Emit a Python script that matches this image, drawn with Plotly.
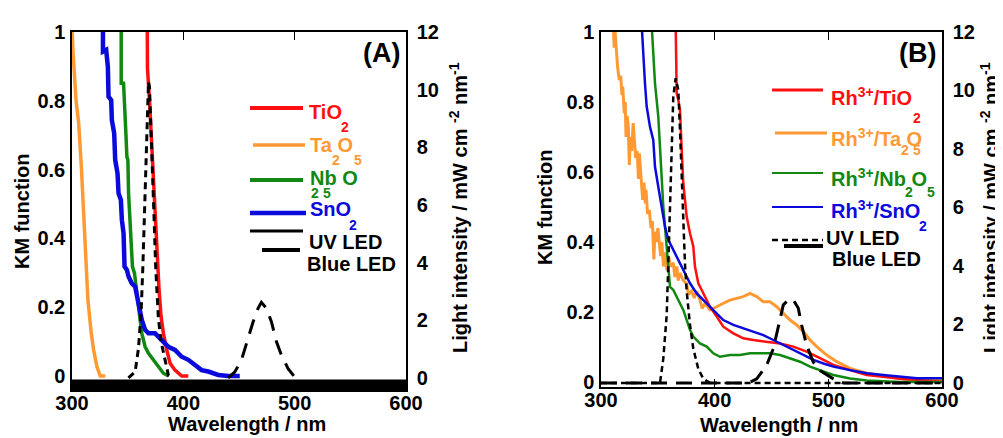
import plotly.graph_objects as go

# ---------------- Panel A data (wavelength nm, KM function / light intensity) -------------
a_ta_x = [300.0, 300.9, 303.6, 306.0, 308.4, 309.9, 311.3, 312.8, 314.3, 317.3, 319.4, 322.4, 325.4, 330.0]
a_ta_y = [1.02, 0.943, 0.802, 0.735, 0.608, 0.512, 0.415, 0.318, 0.221, 0.124, 0.076, 0.027, 0.0, 0.0]

a_sn_x = [327.8, 327.8, 330.7, 332.2, 332.8, 335.2, 335.8, 337.9, 338.8, 340.9, 341.8, 343.9, 344.8, 346.3,
          347.2, 349.3, 350.8, 353.7, 356.7, 358.2, 359.7, 361.2, 362.7, 365.7, 368.7, 374.6, 380.6, 386.6,
          392.5, 398.5, 404.5, 410.4, 416.4, 422.4, 431.4, 440.3, 450.7]
a_sn_y = [1.02, 0.943, 0.948, 0.899, 0.812, 0.802, 0.744, 0.705, 0.628, 0.589, 0.531, 0.512, 0.453, 0.415,
          0.318, 0.308, 0.289, 0.269, 0.260, 0.231, 0.221, 0.182, 0.163, 0.134, 0.124, 0.124, 0.105, 0.085,
          0.076, 0.056, 0.047, 0.032, 0.017, 0.013, 0.003, 0.0, 0.0]

a_nb_x = [344.2, 344.2, 346.3, 347.2, 348.4, 349.3, 350.2, 350.8, 353.1, 354.3, 356.1, 358.2, 359.7, 361.2,
          362.7, 365.7, 368.7, 373.2, 377.7, 382.1, 386.6]
a_nb_y = [1.02, 0.851, 0.851, 0.802, 0.705, 0.637, 0.628, 0.531, 0.415, 0.318, 0.299, 0.250, 0.202, 0.163,
          0.124, 0.085, 0.066, 0.047, 0.027, 0.008, 0.0]

a_ti_x = [367.6, 367.8, 369.6, 371.1, 372.3, 373.7, 375.2, 377.0, 378.2, 380.0, 382.1, 385.1, 388.1, 392.5,
          398.5, 404.5]
a_ti_y = [1.02, 0.894, 0.802, 0.705, 0.608, 0.512, 0.415, 0.318, 0.250, 0.172, 0.124, 0.076, 0.037, 0.017,
          0.0, 0.0]

a_uv_x = [350.7, 356.7, 359.7, 362.1, 363.6, 365.1, 366.3, 367.2, 368.7, 369.6, 370.7, 372.3, 373.7, 375.2,
          377.6, 380.0, 383.6, 386.6, 389.6]
a_uv_y = [0.0, 0.21, 1.02, 2.30, 3.81, 5.56, 7.30, 8.70, 10.27, 10.09, 9.04, 7.30, 5.56, 3.81,
          2.07, 1.26, 0.56, 0.09, 0.0]

a_bl_x = [440.3, 446.3, 452.2, 458.2, 462.7, 467.2, 470.1, 474.6, 479.1, 483.6, 488.1, 494.1, 500.0, 503.0]
a_bl_y = [0.0, 0.21, 0.62, 1.37, 1.95, 2.42, 2.62, 2.42, 1.95, 1.26, 0.79, 0.32, 0.03, 0.0]

# ---------------- Panel B data -------------
b_ti_x = [365.7, 366.6, 368.0, 369.5, 371.0, 372.4, 373.9, 375.4, 378.3, 381.2, 382.7, 385.6, 388.6, 391.5,
          395.9, 401.8, 407.6, 416.4, 425.2, 434.0, 445.7, 457.5, 469.2, 480.9, 492.7, 504.4, 519.1, 533.8,
          548.4, 563.1, 577.8, 600.0]
b_ti_y = [1.02, 0.825, 0.806, 0.777, 0.663, 0.568, 0.520, 0.472, 0.425, 0.387, 0.329, 0.282, 0.263, 0.244,
          0.215, 0.187, 0.158, 0.139, 0.125, 0.120, 0.115, 0.110, 0.101, 0.087, 0.068, 0.049, 0.034, 0.020,
          0.015, 0.009, 0.006, 0.001]

b_ta_x = [310.8, 311.6, 312.4, 313.2, 314.6, 316.1, 317.3, 318.5, 319.1, 320.5, 321.3, 322.0, 323.0, 324.0,
          324.9, 325.8, 327.0, 328.3, 329.3, 330.5, 331.8, 333.0, 333.7, 335.2, 336.7, 337.8, 339.0, 339.6,
          341.0, 342.5, 344.0, 345.2, 346.5, 347.5, 349.0, 350.0, 351.3, 352.5, 353.5, 355.0, 356.5, 358.0,
          359.5, 361.0, 363.6, 365.0, 366.6, 368.0, 369.5, 372.4, 375.4, 377.0, 379.8, 382.0, 384.2, 387.1,
          389.0, 391.5, 395.9, 398.0, 401.8, 407.6, 413.5, 419.4, 425.2, 431.1, 437.0, 442.8, 448.7, 454.6,
          460.4, 466.3, 472.2, 478.0, 483.9, 489.8, 498.6, 507.4, 519.1, 533.8, 548.4, 563.1, 577.8, 600.0]
b_ta_y = [1.02, 0.955, 1.0, 0.958, 0.90, 0.863, 0.875, 0.82, 0.844, 0.768, 0.80, 0.70, 0.76, 0.73,
          0.62, 0.70, 0.66, 0.74, 0.68, 0.64, 0.66, 0.58, 0.653, 0.568, 0.52, 0.57, 0.51, 0.549,
          0.48, 0.491, 0.44, 0.46, 0.35, 0.43, 0.40, 0.44, 0.387, 0.36, 0.40, 0.33, 0.37, 0.32,
          0.36, 0.33, 0.34, 0.30, 0.33, 0.29, 0.311, 0.29, 0.28, 0.25, 0.26, 0.24, 0.26, 0.234,
          0.21, 0.225, 0.206, 0.21, 0.215, 0.225, 0.234, 0.239, 0.244, 0.253, 0.244, 0.229, 0.229, 0.215,
          0.196, 0.177, 0.163, 0.144, 0.120, 0.101, 0.077, 0.058, 0.039, 0.025, 0.017, 0.010, 0.006, 0.006]

b_nb_x = [344.6, 346.0, 347.5, 350.4, 351.9, 353.4, 354.8, 356.3, 357.8, 359.2, 360.7, 363.6, 366.6, 369.5,
          372.4, 375.4, 378.3, 381.2, 387.1, 393.0, 398.8, 404.7, 413.5, 422.3, 431.1, 439.9, 448.7, 457.5,
          466.3, 475.1, 483.9, 492.7, 504.4, 519.1, 533.8, 563.1, 600.0]
b_nb_y = [1.02, 0.929, 0.853, 0.758, 0.663, 0.568, 0.501, 0.444, 0.377, 0.329, 0.272, 0.263, 0.244, 0.225,
          0.206, 0.177, 0.149, 0.130, 0.110, 0.101, 0.082, 0.072, 0.077, 0.077, 0.082, 0.082, 0.082, 0.077,
          0.068, 0.058, 0.044, 0.034, 0.020, 0.010, 0.004, 0.0, 0.0]

b_sn_x = [335.8, 337.2, 338.7, 340.2, 343.1, 346.0, 347.5, 350.4, 353.4, 356.3, 359.2, 362.2, 365.1, 369.5,
          373.9, 378.3, 384.2, 390.0, 395.9, 401.8, 407.6, 416.4, 425.2, 434.0, 442.8, 451.6, 460.4, 469.2,
          478.0, 486.9, 495.7, 504.4, 519.1, 533.8, 548.4, 563.1, 577.8, 600.0]
b_sn_y = [1.02, 0.929, 0.853, 0.787, 0.729, 0.691, 0.615, 0.558, 0.501, 0.444, 0.406, 0.387, 0.368, 0.339,
          0.311, 0.282, 0.253, 0.234, 0.215, 0.196, 0.177, 0.163, 0.153, 0.144, 0.134, 0.120, 0.106, 0.091,
          0.077, 0.063, 0.053, 0.044, 0.034, 0.025, 0.020, 0.015, 0.011, 0.011]

b_uv_x = [300.0, 351.9, 354.8, 357.8, 359.2, 360.7, 362.2, 363.6, 365.7, 368.0, 369.5, 371.0, 372.4, 373.9,
          375.4, 378.3, 381.2, 385.6, 390.0, 395.9, 600.0]
b_uv_y = [0.0, 0.0, 0.83, 2.32, 4.05, 6.34, 8.07, 9.79, 10.42, 10.02, 8.64, 6.92, 5.20, 4.05,
          3.13, 1.98, 1.17, 0.48, 0.14, 0.0, 0.0]

b_bl_x = [300.0, 430.0, 437.0, 445.7, 451.6, 456.0, 460.4, 464.8, 469.2, 473.6, 476.5, 480.9, 486.8, 492.7,
          504.4, 513.2, 600.0]
b_bl_y = [0.0, 0.0, 0.14, 0.60, 1.17, 1.98, 2.67, 2.84, 2.84, 2.55, 1.98, 1.29, 0.71, 0.42,
          0.14, 0.0, 0.0]

km_ticks = [0, 0.2, 0.4, 0.6, 0.8, 1]
km_ticktext = ["0", "0.2", "0.4", "0.6", "0.8", "1"]
li_ticks = [0, 2, 4, 6, 8, 10, 12]
wl_ticks = [300, 400, 500, 600]

RED = "#FF0F0F"
ORANGE = "#FF9933"
GREEN = "#118811"
BLUE = "#0A0ADC"
BLACK = "#000000"
FONT = "Liberation Sans, Arial, sans-serif"

W, H = 1003, 438
OFF = 8  # page body margin offset


def PX(x):
    return (x - OFF) / W


def PY(y):
    return 1 - (y - OFF) / H


fig = go.Figure()


def add_line(x, y, xa, ya, color, width, dash="solid"):
    fig.add_trace(go.Scatter(x=x, y=y, xaxis=xa, yaxis=ya, mode="lines",
                             line=dict(color=color, width=width, dash=dash),
                             showlegend=False, hoverinfo="skip", cliponaxis=True))


# Panel A
add_line(a_ta_x, a_ta_y, "x", "y", ORANGE, 3.5)
add_line(a_nb_x, a_nb_y, "x", "y", GREEN, 3.5)
add_line(a_ti_x, a_ti_y, "x", "y", RED, 3.5)
add_line(a_sn_x, a_sn_y, "x", "y", BLUE, 4.5)
add_line(a_uv_x, a_uv_y, "x", "y2", BLACK, 3, "7px,5px")
add_line(a_bl_x, a_bl_y, "x", "y2", BLACK, 3, "15px,10px")

# Panel B
add_line(b_ta_x, b_ta_y, "x2", "y3", ORANGE, 3)
add_line(b_ti_x, b_ti_y, "x2", "y3", RED, 2.5)
add_line(b_nb_x, b_nb_y, "x2", "y3", GREEN, 2.5)
add_line(b_sn_x, b_sn_y, "x2", "y3", BLUE, 2.5)
add_line(b_uv_x, b_uv_y, "x2", "y4", BLACK, 2.5, "6px,4px")
add_line(b_bl_x, b_bl_y, "x2", "y4", BLACK, 3, "16px,9px")

tickfont = dict(family=FONT, size=20, color=BLACK, weight=700)

xcommon = dict(range=[300, 600], tickvals=wl_ticks, ticks="inside", ticklen=8, tickwidth=1.2,
               tickcolor=BLACK, showline=True, linecolor=BLACK, linewidth=1.5, mirror="ticks",
               showgrid=False, zeroline=False, tickfont=tickfont, automargin=False,
               ticklabelstandoff=-6)
ycommon = dict(tickvals=km_ticks, ticktext=km_ticktext, ticks="", showline=True, linecolor=BLACK,
               linewidth=1.5, showgrid=False, zeroline=False, tickfont=tickfont, ticklabelstandoff=1,
               automargin=False)
rcommon = dict(tickvals=li_ticks, ticks="", showline=True, linecolor=BLACK, linewidth=1.5,
               showgrid=False, zeroline=False, tickfont=tickfont, side="right", ticklabelstandoff=5,
               automargin=False)


def dom_x(a, b):
    return [PX(a), PX(b)]


def dom_y(top, bottom):
    return [PY(bottom), PY(top)]


fig.update_layout(
    width=W, height=H, margin=dict(l=0, r=0, t=0, b=0, autoexpand=False),
    paper_bgcolor="white", plot_bgcolor="white", showlegend=False,
    font=dict(family=FONT, size=20, color=BLACK),
    xaxis=dict(domain=dom_x(72, 406), anchor="y", **xcommon),
    yaxis=dict(domain=dom_y(32, 390), anchor="x", range=[-0.0407, 1], **ycommon),
    yaxis2=dict(overlaying="y", anchor="x", range=[-0.42, 12], **rcommon),
    xaxis2=dict(domain=dom_x(601, 942), anchor="y3", **xcommon),
    yaxis3=dict(domain=dom_y(32, 387), anchor="x2", range=[-0.0143, 1], **ycommon),
    yaxis4=dict(overlaying="y3", anchor="x2", range=[-0.14, 12], **rcommon),
)

shapes = []
# thick black band at the bottom of panel A
shapes.append(dict(type="rect", xref="paper", yref="paper", x0=PX(72), x1=PX(406),
                   y0=PY(390), y1=PY(379.5), fillcolor=BLACK, line=dict(width=0), layer="above"))


def seg(x0, y0, x1, y1, color, width, dash="solid"):
    shapes.append(dict(type="line", xref="paper", yref="paper", x0=PX(x0), y0=PY(y0),
                       x1=PX(x1), y1=PY(y1), line=dict(color=color, width=width, dash=dash)))


# legend samples A
seg(250, 108, 303, 108, RED, 4)
seg(253, 145, 305, 145, ORANGE, 3.5)
seg(250, 180, 303, 180, GREEN, 4)
seg(250, 213, 306, 213, BLUE, 4.5)
seg(250, 231, 303, 231, BLACK, 3)
seg(262, 250, 300, 250, BLACK, 4)
# legend samples B
seg(772, 90, 823, 90, RED, 3)
seg(775, 133, 827, 133, ORANGE, 3)
seg(772, 173, 823, 173, GREEN, 2)
seg(772, 207, 823, 207, BLUE, 2)
seg(772, 240, 823, 240, BLACK, 2.5, "6px,4px")
seg(784, 246, 823, 246, BLACK, 4)
fig.update_layout(shapes=shapes)

ann = []


def txt(x, y, s, color=BLACK, size=20, xanchor="left", angle=0):
    ann.append(dict(x=PX(x), y=PY(y), xref="paper", yref="paper", text=s, showarrow=False,
                    xanchor=xanchor, yanchor="middle", textangle=angle,
                    font=dict(family=FONT, size=size, color=color, weight=700)))


# panel labels
txt(381, 53, "(A)", size=27, xanchor="center")
txt(917, 53, "(B)", size=27, xanchor="center")

# axis titles
txt(22, 211, "KM function", xanchor="center", angle=-90)
txt(458, 208, "Light intensity / mW cm <sup>-2</sup> nm<sup>-1</sup>", xanchor="center", angle=-90)
txt(545, 207, "KM function", xanchor="center", angle=-90)
txt(989, 208, "Light intensity / mW cm <sup>-2</sup> nm<sup>-1</sup>", xanchor="center", angle=-90)
txt(247, 424, "Wavelength / nm", xanchor="center")
txt(779, 425, "Wavelength / nm", xanchor="center")

# legend text A
txt(307, 112, "TiO", RED)
txt(345, 127, "2", RED, 14, "center")
txt(308, 145, "Ta O", ORANGE)
txt(336, 160, "2", ORANGE, 14, "center")
txt(358, 160, "5", ORANGE, 14, "center")
txt(308, 178, "Nb O", GREEN)
txt(315, 193, "2", GREEN, 14, "center")
txt(327, 193, "5", GREEN, 14, "center")
txt(308, 209, "SnO", BLUE)
txt(353, 225, "2", BLUE, 14, "center")
txt(307, 242, "UV LED")
txt(305, 264, "Blue LED")

# legend text B
txt(829, 97, "Rh<sup>3+</sup>/TiO", RED)
txt(917, 118, "2", RED, 14, "center")
txt(829, 138, "Rh<sup>3+</sup>/Ta O", ORANGE)
txt(905, 150, "2", ORANGE, 14, "center")
txt(917, 150, "5", ORANGE, 14, "center")
txt(829, 178, "Rh<sup>3+</sup>/Nb O", GREEN)
txt(909, 192, "2", GREEN, 14, "center")
txt(931, 192, "5", GREEN, 14, "center")
txt(829, 210, "Rh<sup>3+</sup>/SnO", BLUE)
txt(923, 226, "2", BLUE, 14, "center")
txt(824, 238, "UV LED")
txt(830, 259, "Blue LED")

fig.update_layout(annotations=ann)

fig.write_html("out.html")
